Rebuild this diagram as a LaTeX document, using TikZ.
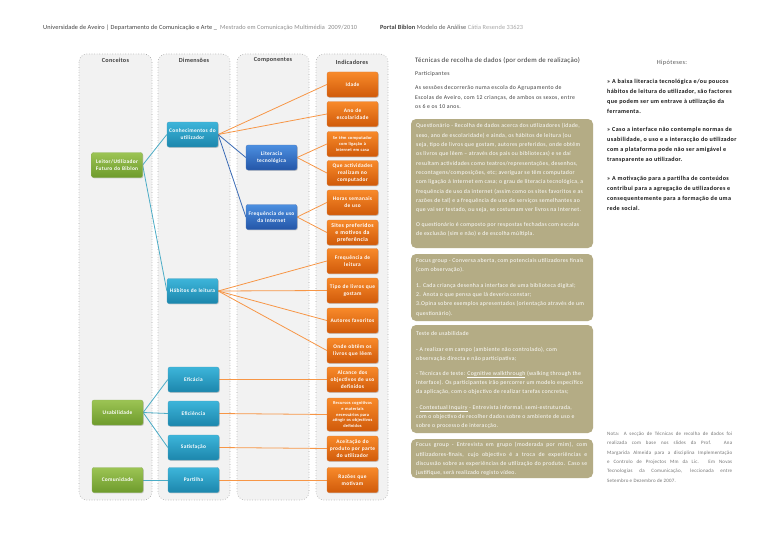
\documentclass[tikz,border=0pt]{standalone}
\usepackage{fontspec}
\setmainfont{Carlito}
\newfontfamily\lsa[LetterSpace=2]{Carlito}
\newfontfamily\lsb[LetterSpace=4]{Carlito}
\newfontfamily\lse[LetterSpace=5]{Carlito}
\newfontfamily\lsc[LetterSpace=6]{Carlito}
\usetikzlibrary{shadows}
\definecolor{colbg}{HTML}{F2F2F2}
\definecolor{colbd}{HTML}{A6A6A6}
\definecolor{gtop}{HTML}{9CC454}
\definecolor{gbot}{HTML}{6E9B2C}
\definecolor{ttop}{HTML}{3DB5DA}
\definecolor{tbot}{HTML}{1C86AC}
\definecolor{btop}{HTML}{4C8FE0}
\definecolor{bbot}{HTML}{2456A8}
\definecolor{otop}{HTML}{F88A2A}
\definecolor{obot}{HTML}{D05A0A}
\definecolor{lteal}{HTML}{4BACC6}
\definecolor{lorange}{HTML}{F79646}
\definecolor{lblue}{HTML}{3A6BB5}
\definecolor{khaki}{HTML}{B4AC85}
\definecolor{hdrdark}{HTML}{404040}
\definecolor{hdrgray}{HTML}{8C8C8C}
\definecolor{hdrmid}{HTML}{595959}
\definecolor{hdrlight}{HTML}{A6A6A6}
\pgfdeclarelayer{cols}
\pgfdeclarelayer{links}
\pgfsetlayers{cols,links,main}
\newcommand{\jline}[2]{\makebox[#1][s]{#2}}
\tikzset{
  colbox/.style={fill=colbg, draw=colbd, dotted, line width=0.6pt, rounded corners=8pt},
  colhead/.style={font=\lsb\fontsize{6.2}{7}\selectfont\bfseries, text=black!75, inner sep=0},
  nbox/.style={rounded corners=2pt, minimum width=51pt, minimum height=25pt, text width=50pt,
    align=center, inner sep=0.5pt, text=white, font=\lsc\fontsize{5.4}{6.8}\selectfont\bfseries,
    drop shadow={shadow xshift=0.8pt, shadow yshift=-0.8pt, opacity=0.35}},
  conc/.style={nbox, top color=gtop, bottom color=gbot, draw=gbot!80!white, line width=0.3pt},
  dimen/.style={nbox, top color=ttop, bottom color=tbot, draw=tbot!80!white, line width=0.3pt},
  comp/.style={nbox, top color=btop, bottom color=bbot, draw=bbot!80!white, line width=0.3pt},
  indic/.style={nbox, top color=otop, bottom color=obot, draw=obot!80!white, line width=0.3pt},
  small/.style={font=\lsb\fontsize{4.4}{6}\selectfont\bfseries},
  tl/.style={lteal, line width=0.8pt},
  ol/.style={lorange, line width=0.8pt},
  bl/.style={lblue, line width=0.8pt},
  kbox/.style={fill=khaki, draw=none, rounded corners=5pt},
  ktext/.style={anchor=north west, inner sep=0, align=left, text=white, font=\lse\fontsize{5.8}{9.3}\selectfont},
}
\begin{document}
\begin{tikzpicture}[x=1pt,y=-1pt]
\useasboundingbox (0,0) rectangle (768,543);

% header
\node[anchor=base west, inner sep=0, font=\lsa\fontsize{6.3}{7}\selectfont] (hdr) at (43,29.5)
 {\textcolor{hdrdark}{Universidade de Aveiro | Departamento de Comunicação e Arte \_}\ \ \textcolor{hdrgray}{Mestrado em Comunicação Multimédia\ \ 2009/2010}\hspace{23pt}\textcolor{hdrdark}{\bfseries Portal Biblon} \textcolor{hdrmid}{Modelo de Análise} \textcolor{hdrlight}{Cátia Resende 33623}};

% columns
\begin{pgfonlayer}{cols}
\fill[white] (0,0) rectangle (768,543);
\draw[colbox] (79,54) rectangle (152,500);
\draw[colbox] (158,54) rectangle (230,500);
\draw[colbox] (237,54) rectangle (309,500);
\draw[colbox] (316,54) rectangle (388,500);
\end{pgfonlayer}
\node[colhead] (h1) at (115.5,60) {Conceitos};
\node[colhead] (h2) at (194,60) {Dimensões};
\node[colhead] (h3) at (273,60) {Componentes};
\node[colhead] (h4) at (352,62) {Indicadores};

% concepts
\node[conc] (leitor) at (117,165) {Leitor/Utilizador\\Futuro do Biblon};
\node[conc] (usab) at (117.5,412.5) {Usabilidade};
\node[conc] (comun) at (117.5,480) {Comunidade};

% dimensions
\node[dimen] (conh) at (192.5,134.5) {Conhecimentos do\\utilizador};
\node[dimen] (hab) at (192.5,291) {Hábitos de leitura};
\node[dimen] (efic) at (193.5,379.5) {Eficácia};
\node[dimen] (efie) at (193.5,413.5) {Eficiência};
\node[dimen] (satis) at (193.5,447.5) {Satisfação};
\node[dimen] (part) at (193.5,480) {Partilha};

% components
\node[comp] (lit) at (271.5,157.5) {Literacia\\tecnológica};
\node[comp] (freq) at (271.5,217) {Frequência de uso\\da Internet};

% indicators
\node[indic] (i1) at (352.5,84.5) {Idade};
\node[indic] (i2) at (352.5,114) {Ano de\\escolaridade};
\node[indic, small] (i3) at (352.5,144) {Se têm computador\\com ligação à\\internet em casa};
\node[indic] (i4) at (352.5,173) {Que actividades\\realizam no\\computador};
\node[indic] (i5) at (352.5,202.5) {Horas semanais\\de uso};
\node[indic, font=\lsc\fontsize{5.8}{7}\selectfont\bfseries] (i6) at (352.5,232.5) {Sites preferidos\\e motivos da\\preferência};
\node[indic] (i7) at (352.5,261) {Frequência de\\leitura};
\node[indic] (i8) at (352.5,290.5) {Tipo de livros que\\gostam};
\node[indic] (i9) at (352.5,320.5) {Autores favoritos};
\node[indic] (i10) at (352.5,350.5) {Onde obtêm os\\livros que lêem};
\node[indic] (i11) at (352.5,379.5) {Alcance dos\\objectivos de uso\\definidos};
\node[indic, small, font=\lsb\fontsize{4.4}{5.9}\selectfont\bfseries, minimum height=33pt] (i12) at (352.5,414.5) {Recursos cognitivos\\e materiais\\necessários para\\atingir os objectivos\\definidos};
\node[indic] (i13) at (352.5,448.5) {Aceitação do\\produto por parte\\do utilizador};
\node[indic] (i14) at (352.5,480) {Razões que\\motivam};

% links
\begin{pgfonlayer}{links}
\draw[tl] (leitor.east) -- (conh.west);
\draw[tl] (leitor.east) -- (hab.west);
\draw[ol] (conh.east) -- (i1.west);
\draw[ol] (conh.east) -- (i2.west);
\draw[bl] (conh.east) -- (lit.west);
\draw[bl] (conh.east) -- (freq.west);
\draw[ol] (lit.east) -- (i3.west);
\draw[ol] (lit.east) -- (i4.west);
\draw[ol] (freq.east) -- (i5.west);
\draw[ol] (freq.east) -- (i6.west);
\draw[ol] (hab.east) -- (i7.west);
\draw[ol] (hab.east) -- (i8.west);
\draw[ol] (hab.east) -- (i9.west);
\draw[ol] (hab.east) -- (i10.west);
\draw[tl] (usab.east) -- (efic.west);
\draw[tl] (usab.east) -- (efie.west);
\draw[tl] (usab.east) -- (satis.west);
\draw[tl] (comun.east) -- (part.west);
\draw[ol] (efic.east) -- (i11.west);
\draw[ol] (efie.east) -- (i12.west);
\draw[ol] (satis.east) -- (i13.west);
\draw[ol] (part.east) -- (i14.west);
\end{pgfonlayer}

% techniques
\node[anchor=north west, inner sep=0, text=black!80, font=\lsb\fontsize{6.8}{7.5}\selectfont] (tech) at (415,57) {Técnicas de recolha de dados (por ordem de realização)};
\node[anchor=north west, inner sep=0, text=black!75, font=\lsc\fontsize{5.8}{6.5}\selectfont] (partic) at (415,71.5) {Participantes};
\node[anchor=north west, inner sep=0, align=left, text=black!75, font=\lsc\fontsize{5.8}{9.5}\selectfont] (sess) at (415,85.5)
 {As sessões decorrerão numa escola do Agrupamento de\\Escolas de Aveiro, com 12 crianças, de ambos os sexos, entre\\os 6 e os 10 anos.};

\fill[kbox] (411,119) rectangle (593,248);
\fill[kbox] (411,254) rectangle (593,321);
\fill[kbox] (411,325) rectangle (593,433);
\fill[kbox] (411,439) rectangle (593,478);

\node[ktext] (q1) at (416,123.5)
 {Questionário - Recolha de dados acerca dos utilizadores (idade,\\
  sexo, ano de escolaridade) e ainda, os hábitos de leitura (ou\\
  seja, tipo de livros que gostam, autores preferidos, onde obtêm\\
  os livros que lêem – através dos pais ou bibliotecas) e se daí\\
  resultam actividades como teatros/representações, desenhos,\\
  recontagens/composições, etc; averiguar se têm computador\\
  com ligação à Internet em casa; o grau de literacia tecnológica, a\\
  frequência de uso da internet (assim como os sites favoritos e as\\
  razões de tal) e a frequência de uso de serviços semelhantes ao\\
  que vai ser testado, ou seja, se costumam ver livros na Internet.\\[5.5pt]
  O questionário é composto por respostas fechadas com escalas\\
  de exclusão (sim e não) e de escolha múltipla.};

\node[ktext] (q2) at (416,258)
 {Focus group - Conversa aberta, com potenciais utilizadores finais\\
  (com observação).\\[6.5pt]
  1. Cada criança desenha a interface de uma biblioteca digital;\\
  2. Anota o que pensa que lá deveria constar;\\
  3.Opina sobre exemplos apresentados (orientação através de um\\
  questionário).};

\node[ktext] (q3) at (416,331)
 {Teste de usabilidade\\[6.5pt]
  - A realizar em campo (ambiente não controlado), com\\
  observação directa e não participativa;\\[5.5pt]
  - Técnicas de teste: \underline{Cognitive walkthrough} (walking through the\\
  interface). Os participantes irão percorrer um modelo específico\\
  da aplicação, com o objectivo de realizar tarefas concretas;\\[6pt]
  - \underline{Contextual Inquiry} - Entrevista informal, semi-estruturada,\\
  com o objectivo de recolher dados sobre o ambiente de uso e\\
  sobre o processo de interacção.};

\node[ktext] (q4) at (416,442.5)
 {\jline{171pt}{Focus group - Entrevista em grupo (moderada por mim), com}\\
  \jline{171pt}{utilizadores-finais, cujo objectivo é a troca de experiências e}\\
  \jline{171pt}{discussão sobre as experiências de utilização do produto. Caso se}\\
  justifique, será realizado registo vídeo.};

% hypotheses
\node[inner sep=0, text=black!65, font=\lsc\fontsize{6.3}{7}\selectfont] (hyp) at (672,62.7) {Hipóteses:};
\node[anchor=north west, inner sep=0, align=left, text=black!90, font=\lsc\fontsize{6.1}{10}\selectfont\bfseries] (hyps) at (607,79.5)
 {» A baixa literacia tecnológica e/ou poucos\\
  hábitos de leitura do utilizador, são factores\\
  que podem ser um entrave à utilização da\\
  ferramenta.\\[8pt]
  » Caso a interface não contemple normas de\\
  usabilidade, o uso e a interacção do utilizador\\
  com a plataforma pode não ser amigável e\\
  transparente ao utilizador.\\[9pt]
  » A motivação para a partilha de conteúdos\\
  contribui para a agregação de utilizadores e\\
  consequentemente para a formação de uma\\
  rede social.};

% note
\node[anchor=north west, inner sep=0, align=left, text=black!55, font=\lsb\fontsize{5}{9.3}\selectfont] (nota) at (607,432)
 {\jline{125pt}{Nota: A secção de Técnicas de recolha de dados foi}\\
  \jline{125pt}{realizada com base nos slides da Prof. Ana}\\
  \jline{125pt}{Margarida Almeida para a disciplina Implementação}\\
  \jline{125pt}{e Controlo de Projectos Mm da Lic. Em Novas}\\
  \jline{125pt}{Tecnologias da Comunicação, leccionada entre}\\
  Setembro e Dezembro de 2007.};
\end{tikzpicture}
\end{document}
